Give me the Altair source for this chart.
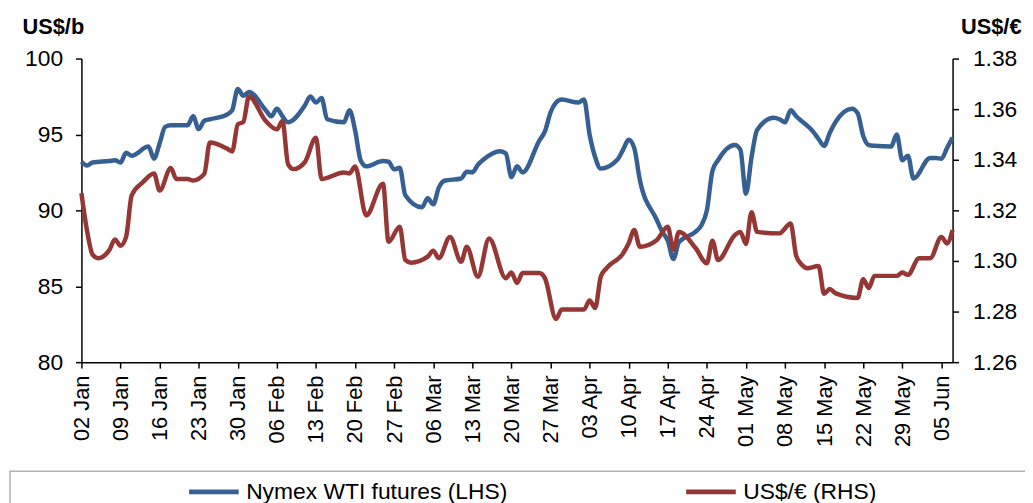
import altair as alt
import pandas as pd

# ---------------- data ----------------
series_names = ["Nymex WTI futures (LHS)", "US$/€ (RHS)"]
series_colors = ["#376092", "#953735"]

wti_dates = [
    "2013-01-02", "2013-01-03", "2013-01-04", "2013-01-07", "2013-01-08", "2013-01-09",
    "2013-01-10", "2013-01-11", "2013-01-14", "2013-01-15", "2013-01-16", "2013-01-17",
    "2013-01-18", "2013-01-21", "2013-01-22", "2013-01-23", "2013-01-24", "2013-01-25",
    "2013-01-28", "2013-01-29", "2013-01-30", "2013-01-31", "2013-02-01", "2013-02-04",
    "2013-02-05", "2013-02-06", "2013-02-07", "2013-02-08", "2013-02-11", "2013-02-12",
    "2013-02-13", "2013-02-14", "2013-02-15", "2013-02-18", "2013-02-19", "2013-02-20",
    "2013-02-21", "2013-02-22", "2013-02-25", "2013-02-26", "2013-02-27", "2013-02-28",
    "2013-03-01", "2013-03-04", "2013-03-05", "2013-03-06", "2013-03-07", "2013-03-08",
    "2013-03-11", "2013-03-12", "2013-03-13", "2013-03-14", "2013-03-15", "2013-03-18",
    "2013-03-19", "2013-03-20", "2013-03-21", "2013-03-22", "2013-03-25", "2013-03-26",
    "2013-03-27", "2013-03-28", "2013-03-29", "2013-04-01", "2013-04-02", "2013-04-03",
    "2013-04-04", "2013-04-05", "2013-04-08", "2013-04-09", "2013-04-10", "2013-04-11",
    "2013-04-12", "2013-04-15", "2013-04-16", "2013-04-17", "2013-04-18", "2013-04-19",
    "2013-04-22", "2013-04-23", "2013-04-24", "2013-04-25", "2013-04-26", "2013-04-29",
    "2013-04-30", "2013-05-01", "2013-05-02", "2013-05-03", "2013-05-06", "2013-05-07",
    "2013-05-08", "2013-05-09", "2013-05-10", "2013-05-13", "2013-05-14", "2013-05-15",
    "2013-05-16", "2013-05-17", "2013-05-20", "2013-05-21", "2013-05-22", "2013-05-23",
    "2013-05-24", "2013-05-27", "2013-05-28", "2013-05-29", "2013-05-30", "2013-05-31",
    "2013-06-03", "2013-06-04", "2013-06-05", "2013-06-06", "2013-06-07",
]
wti_values = [
    93.2, 92.95, 93.15, 93.25, 93.3, 93.15,
    93.8, 93.6, 94.2, 93.4, 94.4, 95.5,
    95.6, 95.6, 96.2, 95.35, 95.9, 96.0,
    96.3, 96.6, 98.0, 97.55, 97.8, 96.6,
    96.2, 96.7, 96.2, 95.8, 96.9, 97.5,
    97.1, 97.4, 96.0, 95.8, 96.6, 95.3,
    93.3, 92.9, 93.25, 93.2, 92.7, 92.8,
    91.0, 90.2, 90.8, 90.4, 91.5, 91.95,
    92.1, 92.55, 92.5, 93.0, 93.35, 93.9,
    93.75, 92.2, 92.9, 92.5, 94.6, 95.2,
    96.45, 97.1, 97.3, 97.1, 97.3, 95.0,
    93.5, 92.75, 93.35, 94.0, 94.65, 94.1,
    92.0, 89.4, 88.6, 88.0, 86.8, 87.9,
    88.6, 89.0, 90.0, 92.6, 93.3, 94.3,
    94.0, 91.1, 93.5, 95.3, 96.1, 96.0,
    95.8, 96.6, 96.2, 95.2, 94.7, 94.25,
    95.1, 95.8, 96.7, 96.4, 94.9, 94.3,
    94.25, 94.2, 95.0, 93.3, 93.6, 92.1,
    93.45, 93.45, 93.4, 94.1, 94.8,
]

fx_dates = [
    "2013-01-02", "2013-01-03", "2013-01-04", "2013-01-05", "2013-01-07", "2013-01-08",
    "2013-01-09", "2013-01-10", "2013-01-11", "2013-01-13", "2013-01-15", "2013-01-16",
    "2013-01-18", "2013-01-19", "2013-01-21", "2013-01-22", "2013-01-24", "2013-01-25",
    "2013-01-28", "2013-01-29", "2013-01-30", "2013-01-31", "2013-02-01", "2013-02-04",
    "2013-02-06", "2013-02-07", "2013-02-08", "2013-02-09", "2013-02-11", "2013-02-13",
    "2013-02-14", "2013-02-18", "2013-02-19", "2013-02-20", "2013-02-22", "2013-02-25",
    "2013-02-26", "2013-02-28", "2013-03-01", "2013-03-02", "2013-03-05", "2013-03-06",
    "2013-03-07", "2013-03-09", "2013-03-11", "2013-03-12", "2013-03-14", "2013-03-16",
    "2013-03-19", "2013-03-20", "2013-03-21", "2013-03-22", "2013-03-25", "2013-03-26",
    "2013-03-28", "2013-03-29", "2013-04-02", "2013-04-03", "2013-04-04", "2013-04-05",
    "2013-04-06", "2013-04-09", "2013-04-10", "2013-04-11", "2013-04-12", "2013-04-15",
    "2013-04-17", "2013-04-18", "2013-04-19", "2013-04-22", "2013-04-24", "2013-04-25",
    "2013-04-26", "2013-04-29", "2013-04-30", "2013-05-01", "2013-05-02", "2013-05-03",
    "2013-05-07", "2013-05-09", "2013-05-10", "2013-05-11", "2013-05-12", "2013-05-14",
    "2013-05-15", "2013-05-16", "2013-05-17", "2013-05-21", "2013-05-22", "2013-05-23",
    "2013-05-24", "2013-05-28", "2013-05-29", "2013-05-30", "2013-06-01", "2013-06-03",
    "2013-06-05", "2013-06-06", "2013-06-07",
]
fx_values = [
    1.3268, 1.3120, 1.3025, 1.3011, 1.3043, 1.3085,
    1.3060, 1.3095, 1.3259, 1.3311, 1.3346, 1.3278,
    1.3367, 1.3324, 1.3324, 1.3318, 1.3344, 1.3468,
    1.3445, 1.3433, 1.3540, 1.3550, 1.3650, 1.3553,
    1.3520, 1.3553, 1.3383, 1.3363, 1.3390, 1.3487,
    1.3324, 1.3350, 1.3346, 1.3373, 1.3180, 1.3305,
    1.3076, 1.3135, 1.3004, 1.2993, 1.3017, 1.3040,
    1.3011, 1.3095, 1.2997, 1.3056, 1.2938, 1.3089,
    1.2932, 1.2954, 1.2913, 1.2952, 1.2952, 1.2932,
    1.2771, 1.2808, 1.2808, 1.2844, 1.2814, 1.2938,
    1.2971, 1.3030, 1.3070, 1.3122, 1.3056, 1.3082,
    1.3135, 1.3045, 1.3115, 1.3050, 1.2991, 1.3080,
    1.3004, 1.3102, 1.3115, 1.3067, 1.3193, 1.3115,
    1.3109, 1.3148, 1.3020, 1.2985, 1.2971, 1.2980,
    1.2870, 1.2889, 1.2873, 1.2854, 1.2928, 1.2893,
    1.2941, 1.2941, 1.2954, 1.2945, 1.3011, 1.3011,
    1.3095, 1.3069, 1.3122,
]

tick_dates = [
    "2013-01-02", "2013-01-09", "2013-01-16", "2013-01-23", "2013-01-30", "2013-02-06",
    "2013-02-13", "2013-02-20", "2013-02-27", "2013-03-06", "2013-03-13", "2013-03-20",
    "2013-03-27", "2013-04-03", "2013-04-10", "2013-04-17", "2013-04-24", "2013-05-01",
    "2013-05-08", "2013-05-15", "2013-05-22", "2013-05-29", "2013-06-05",
]
x_start, x_end = "2013-01-02", "2013-06-07"
left_ticks = [80, 85, 90, 95, 100]
right_ticks = [1.26, 1.28, 1.30, 1.32, 1.34, 1.36, 1.38]
left_title = "US$/b"
right_title = "US$/€"


def ms(d):
    return int(pd.Timestamp(d, tz="UTC").timestamp() * 1000)


wti = pd.DataFrame({"date": wti_dates, "value": wti_values, "series": series_names[0]})
fx = pd.DataFrame({"date": fx_dates, "value": fx_values, "series": series_names[1]})

FONT = "Liberation Sans"

x_enc = alt.X(
    "date:T",
    scale=alt.Scale(type="utc", domain=[ms(x_start), ms(x_end)]),
    axis=alt.Axis(
        values=[ms(d) for d in tick_dates], format="%d %b", labelAngle=270,
        labelAlign="right", labelBaseline="middle", labelFontSize=22, labelPadding=7,
        tickSize=6, title=None, labelOverlap=False,
    ),
)

color = alt.Color(
    "series:N",
    scale=alt.Scale(domain=series_names, range=series_colors),
    legend=alt.Legend(
        orient="none", legendX=106, legendY=409, direction="horizontal", title=None,
        symbolType="stroke", symbolSize=2500, symbolStrokeWidth=5, labelFontSize=23,
        labelFont=FONT, labelOffset=5, columnPadding=169, padding=0, labelLimit=0,
        labelColor="black",
    ),
)

left = alt.Chart(wti).mark_line(strokeWidth=4.5, interpolate="monotone").encode(
    x=x_enc,
    y=alt.Y(
        "value:Q",
        scale=alt.Scale(domain=[80, 100], nice=False, zero=False),
        axis=alt.Axis(
            orient="left", values=left_ticks, title=left_title, titleAngle=0,
            titleX=-60, titleY=-25, titleAlign="left", titleBaseline="alphabetic",
            titleFontSize=22, titleFontWeight="bold", labelFontSize=23, labelPadding=13,
            tickSize=6,
        ),
    ),
    color=color,
)

right = alt.Chart(fx).mark_line(strokeWidth=4.5, interpolate="monotone").encode(
    x=x_enc,
    y=alt.Y(
        "value:Q",
        scale=alt.Scale(domain=[1.26, 1.38], nice=False, zero=False),
        axis=alt.Axis(
            orient="right", values=right_ticks, format=".2f", title=right_title,
            titleAngle=0, titleX=69, titleY=-25, titleAlign="right",
            titleBaseline="alphabetic", titleFontSize=22, titleFontWeight="bold",
            labelFontSize=23, labelPadding=14, tickSize=6,
        ),
    ),
    color=color,
)

box = alt.Chart(pd.DataFrame({"k": [0]})).mark_rect(
    fill="white", fillOpacity=0, stroke="#B3B3B3", strokeWidth=1.5
).encode(x=alt.value(-72), x2=alt.value(1100), y=alt.value(416), y2=alt.value(600))

chart = (
    alt.layer(box, left, right)
    .resolve_scale(y="independent")
    .properties(
        width=878, height=306,
        autosize=alt.AutoSizeParams(type="none"),
        padding={"left": 74, "top": 49, "right": 73, "bottom": 140},
        background="white",
    )
    .configure_view(stroke=None)
    .configure_axis(
        grid=False, domainColor="black", tickColor="black", labelColor="black",
        titleColor="black", domainWidth=1.5, tickWidth=1.5, labelFont=FONT,
        titleFont=FONT,
    )
)

chart.save("out.html", embed_options={"renderer": "svg", "actions": False})
